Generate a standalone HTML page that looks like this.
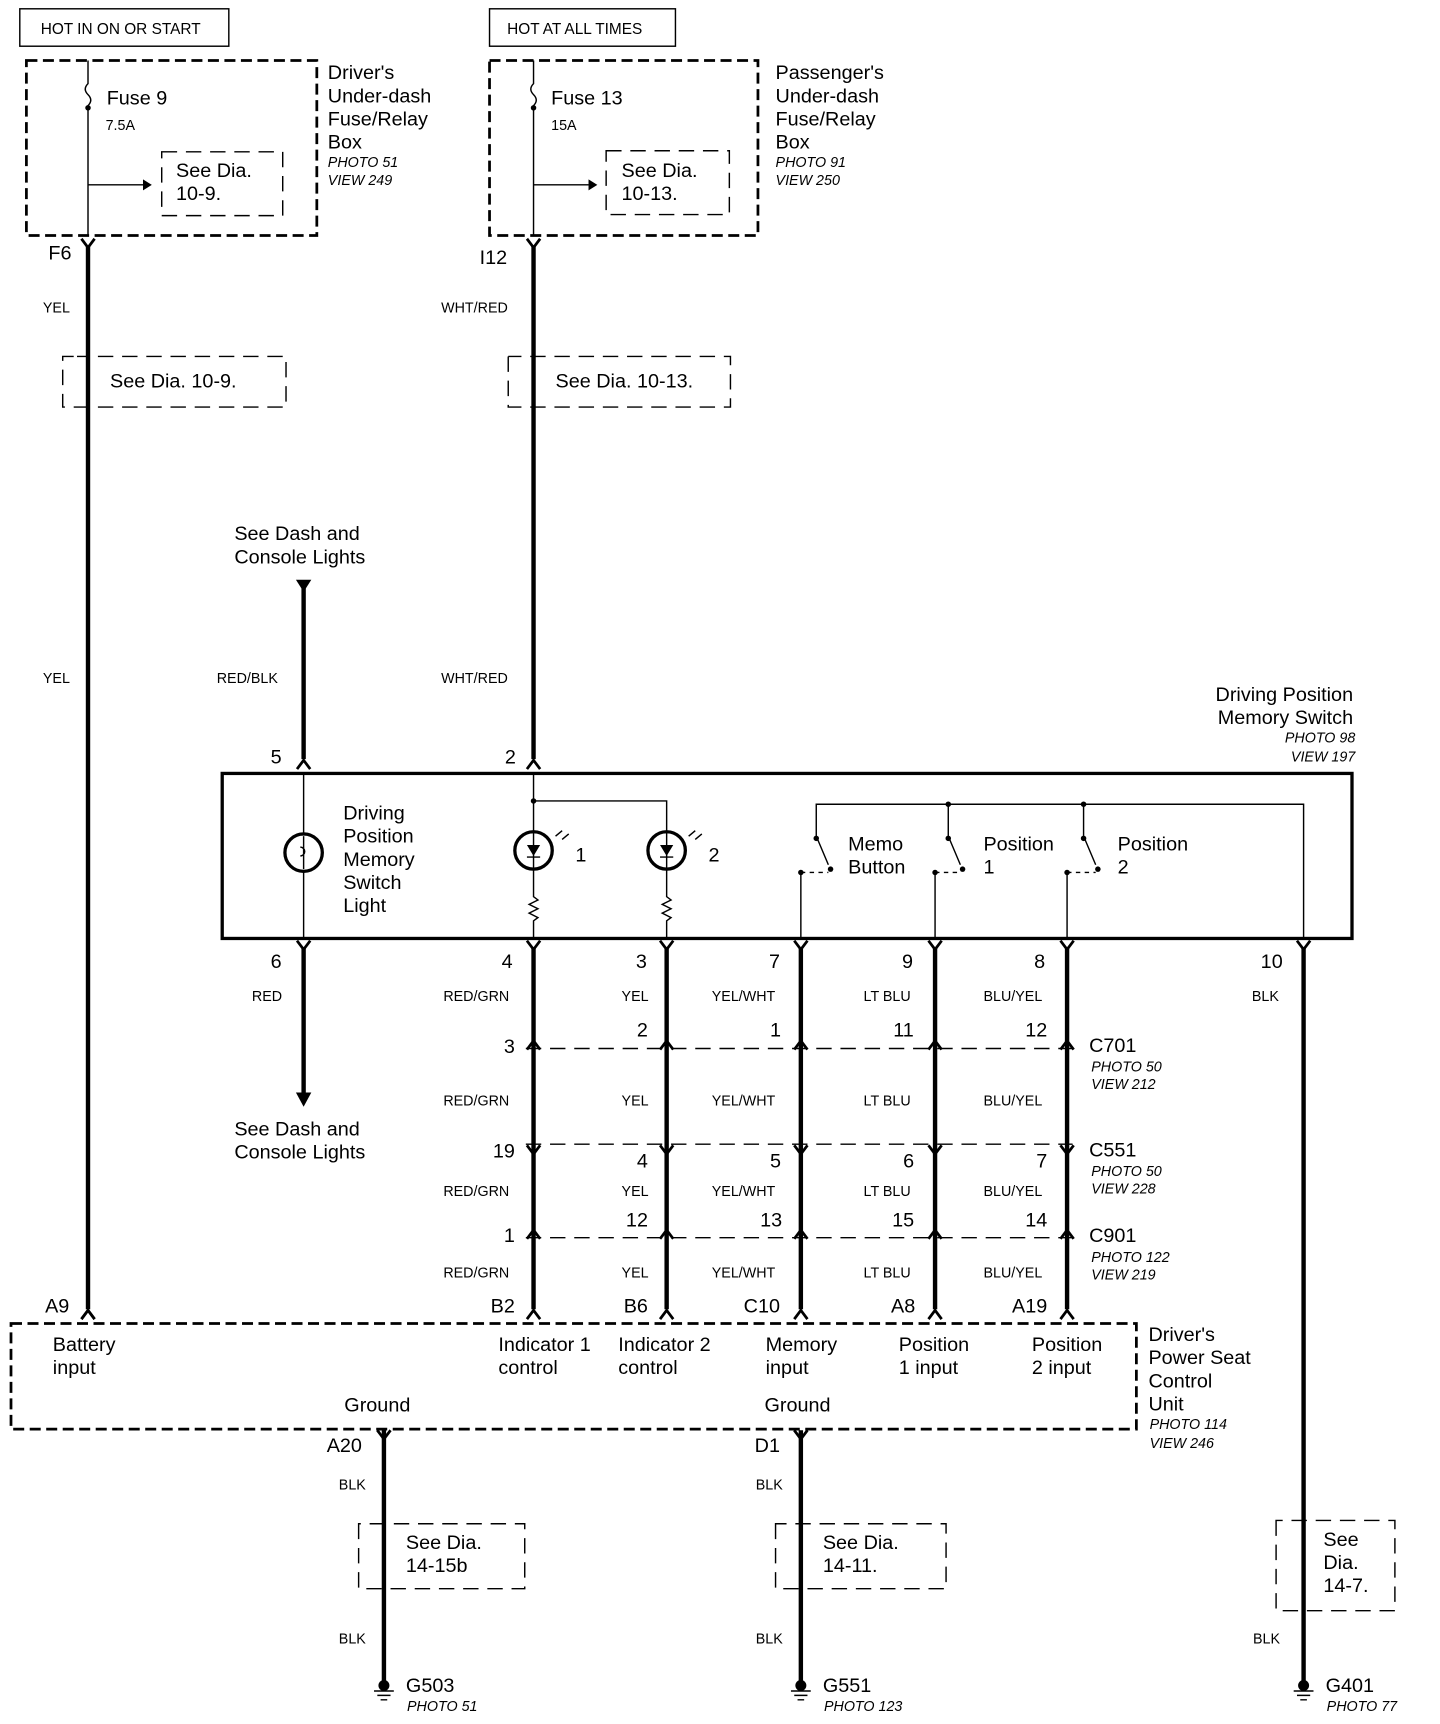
<!DOCTYPE html>
<html><head><meta charset="utf-8"><style>
html,body{margin:0;padding:0;background:#fff}
svg{display:block}
text{font-family:"Liberation Sans",sans-serif;fill:#000}
.t{font-size:18px}.s{font-size:13px}.i{font-size:13px;font-style:italic}
.w{stroke:#000;stroke-width:4;fill:none}
.n{stroke:#000;stroke-width:1.3;fill:none}
.d{stroke:#000;stroke-width:1.3;fill:none;stroke-dasharray:14 8}
.D{stroke:#000;stroke-width:2.5;fill:none;stroke-dasharray:10 5}
</style></head><body>
<svg width="1440" height="1724" viewBox="0 0 1309 1567" preserveAspectRatio="none" xmlns="http://www.w3.org/2000/svg">
<defs>
<path id="up" d="M-6,7 L0,-1 L6,7" stroke="#000" stroke-width="2.5" fill="none"/>
<path id="dn" d="M-6,-7 L0,1 L6,-7" stroke="#000" stroke-width="2.5" fill="none"/>
<g id="gnd"><circle cx="0" cy="0" r="5" fill="#000"/><path d="M-9,5 H9 M-6,9 H6 M-3,13 H3" stroke="#000" stroke-width="1.3"/></g>
</defs>
<!-- top labels -->
<rect x="18" y="8" width="190" height="34" class="n" stroke-width="2"/>
<text x="37" y="31" class="s" style="font-size:14px">HOT IN ON OR START</text>
<rect x="445" y="8" width="169" height="34" class="n" stroke-width="2"/>
<text x="461" y="31" class="s" style="font-size:14px">HOT AT ALL TIMES</text>
<!-- fuse box 1 -->
<rect x="24" y="55" width="264" height="159" class="D"/>
<path class="n" d="M80,55 V76 q-5,5 0,10 q5,5 0,10 V214 M80,168 H130"/>
<path d="M130,163 L138,168 L130,173Z"/>
<circle cx="80" cy="98" r="2.5"/>
<text x="97" y="95" class="t">Fuse 9</text><text x="96" y="118" class="s">7.5A</text>
<rect x="147" y="138" width="110" height="58" class="d" stroke-dasharray="12 10"/>
<text x="160" y="161" class="t">See  Dia.</text><text x="160" y="182" class="t">10-9.</text>
<text x="298" y="72" class="t">Driver's</text><text x="298" y="93" class="t">Under-dash</text><text x="298" y="114" class="t">Fuse/Relay</text><text x="298" y="135" class="t">Box</text>
<text x="298" y="152" class="i">PHOTO 51</text><text x="298" y="168" class="i">VIEW 249</text>
<!-- fuse box 2 -->
<rect x="445" y="55" width="244" height="159" class="D"/>
<path class="n" d="M485,55 V76 q-5,5 0,10 q5,5 0,10 V214 M485,168 H535"/>
<path d="M535,163 L543,168 L535,173Z"/>
<circle cx="485" cy="98" r="2.5"/>
<text x="501" y="95" class="t">Fuse 13</text><text x="501" y="118" class="s">15A</text>
<rect x="551" y="137" width="112" height="58" class="d" stroke-dasharray="12 10"/>
<text x="565" y="161" class="t">See  Dia.</text><text x="565" y="182" class="t">10-13.</text>
<text x="705" y="72" class="t">Passenger's</text><text x="705" y="93" class="t">Under-dash</text><text x="705" y="114" class="t">Fuse/Relay</text><text x="705" y="135" class="t">Box</text>
<text x="705" y="152" class="i">PHOTO 91</text><text x="705" y="168" class="i">VIEW 250</text>
<!-- main wires -->
<text x="44" y="236" class="t">F6</text>
<use href="#dn" x="80" y="224"/>
<path class="w" d="M80,224 V1190"/>
<use href="#up" x="80" y="1192"/>
<text x="436" y="240" class="t">I12</text>
<use href="#dn" x="485" y="224"/>
<path class="w" d="M485,224 V690"/>
<use href="#up" x="485" y="692"/>
<text x="39" y="284" class="s">YEL</text><text x="401" y="284" class="s">WHT/RED</text>
<path class="d" stroke-dasharray="12 10" d="M67,324 H57 V370 H260 V324 H70"/>
<text x="100" y="352" class="t">See  Dia.  10-9.</text>
<path class="d" stroke-dasharray="12 10" d="M462,324 V370 H664 V324 H462"/>
<text x="505" y="352" class="t">See  Dia.  10-13.</text>
<text x="39" y="621" class="s">YEL</text><text x="197" y="621" class="s">RED/BLK</text><text x="401" y="621" class="s">WHT/RED</text>
<text x="213" y="491" class="t">See Dash and</text><text x="213" y="512" class="t">Console Lights</text>
<path d="M269,527 H283 L276,538Z"/>
<path class="w" d="M276,532 V690"/><use href="#up" x="276" y="692"/>
<text x="246" y="694" class="t">5</text><text x="459" y="694" class="t">2</text>
<text x="1230" y="637" class="t" text-anchor="end">Driving Position</text>
<text x="1230" y="658" class="t" text-anchor="end">Memory Switch</text>
<text x="1232" y="675" class="i" text-anchor="end">PHOTO 98</text>
<text x="1232" y="692" class="i" text-anchor="end">VIEW 197</text>
<!-- switch box -->
<rect x="202" y="703" width="1027" height="150" fill="none" stroke="#000" stroke-width="3"/>
<path class="n" d="M276,703 V853"/>
<circle cx="276" cy="775" r="17" fill="#fff" stroke="#000" stroke-width="3"/>
<path class="n" d="M276,760 V790 M273,770 a4,4 0 1,1 0,8"/>
<text x="312" y="745" class="t">Driving</text><text x="312" y="766" class="t">Position</text><text x="312" y="787" class="t">Memory</text><text x="312" y="808" class="t">Switch</text><text x="312" y="829" class="t">Light</text>
<path class="n" d="M485,703 V815 l4,3 l-8,4 l8,4 l-8,4 l8,4 l-4,3 V853 M485,728 H606 V815 l4,3 l-8,4 l8,4 l-8,4 l8,4 l-4,3 V853"/>
<circle cx="485" cy="728" r="2.5"/>
<circle cx="485" cy="773" r="17" fill="#fff" stroke="#000" stroke-width="3"/>
<circle cx="606" cy="773" r="17" fill="#fff" stroke="#000" stroke-width="3"/>
<path d="M479,768 H491 L485,778Z M600,768 H612 L606,778Z"/>
<path class="n" d="M485,756 V790 M606,756 V790 M479,779 H491 M600,779 H612 M505,760 l6,-5 M511,763 l6,-5 M626,760 l6,-5 M632,763 l6,-5"/>
<text x="523" y="783" class="t">1</text><text x="644" y="783" class="t">2</text>
<!-- switches -->
<path class="n" d="M742,760 V731 H1185 V853 M862,731 V760 M985,731 V760 M742,760 L753,786 M862,760 L873,786 M985,760 L996,786 M728,793 V853 M850,793 V853 M970,793 V853"/>
<path class="n" stroke-dasharray="4 4" d="M728,793 H753 M850,793 H873 M970,793 H996"/>
<circle cx="742" cy="762" r="2.5"/><circle cx="862" cy="762" r="2.5"/><circle cx="985" cy="762" r="2.5"/>
<circle cx="755" cy="790" r="2.5"/><circle cx="875" cy="790" r="2.5"/><circle cx="998" cy="790" r="2.5"/>
<circle cx="728" cy="793" r="2.5"/><circle cx="850" cy="793" r="2.5"/><circle cx="970" cy="793" r="2.5"/>
<circle cx="862" cy="731" r="2.5"/><circle cx="985" cy="731" r="2.5"/>
<text x="771" y="773" class="t">Memo</text><text x="771" y="794" class="t">Button</text>
<text x="894" y="773" class="t">Position</text><text x="894" y="794" class="t">1</text>
<text x="1016" y="773" class="t">Position</text><text x="1016" y="794" class="t">2</text>
<!-- bottom wires -->
<g>
<use href="#dn" x="276" y="862"/><use href="#dn" x="485" y="862"/><use href="#dn" x="606" y="862"/><use href="#dn" x="728" y="862"/><use href="#dn" x="850" y="862"/><use href="#dn" x="970" y="862"/><use href="#dn" x="1185" y="862"/>
</g>
<path class="w" d="M276,862 V995 M485,862 V1190 M606,862 V1190 M728,862 V1190 M850,862 V1190 M970,862 V1190 M1185,862 V1530 M349,1300 V1528 M728,1300 V1528"/>
<path d="M269,993 H283 L276,1006Z"/>
<text x="246" y="880" class="t">6</text><text x="456" y="880" class="t">4</text><text x="578" y="880" class="t">3</text><text x="699" y="880" class="t">7</text><text x="820" y="880" class="t">9</text><text x="940" y="880" class="t">8</text><text x="1146" y="880" class="t">10</text>
<text x="229" y="910" class="s">RED</text><text x="403" y="910" class="s">RED/GRN</text><text x="565" y="910" class="s">YEL</text><text x="647" y="910" class="s">YEL/WHT</text><text x="785" y="910" class="s">LT BLU</text><text x="894" y="910" class="s">BLU/YEL</text><text x="1138" y="910" class="s">BLK</text>
<text x="213" y="1032" class="t">See Dash and</text><text x="213" y="1053" class="t">Console Lights</text>
<!-- connectors -->
<path class="d" d="M478,953 H975 M478,1040 H975 M478,1125 H975"/>
<g>
<use href="#up" x="485" y="947"/><use href="#up" x="606" y="947"/><use href="#up" x="728" y="947"/><use href="#up" x="850" y="947"/><use href="#up" x="970" y="947"/>
<use href="#dn" x="485" y="1048"/><use href="#dn" x="606" y="1048"/><use href="#dn" x="728" y="1048"/><use href="#dn" x="850" y="1048"/><use href="#dn" x="970" y="1048"/>
<use href="#up" x="485" y="1119"/><use href="#up" x="606" y="1119"/><use href="#up" x="728" y="1119"/><use href="#up" x="850" y="1119"/><use href="#up" x="970" y="1119"/>
<use href="#up" x="80" y="1192"/><use href="#up" x="485" y="1192"/><use href="#up" x="606" y="1192"/><use href="#up" x="728" y="1192"/><use href="#up" x="850" y="1192"/><use href="#up" x="970" y="1192"/>
</g>
<text x="458" y="957" class="t">3</text><text x="579" y="942" class="t">2</text><text x="700" y="942" class="t">1</text><text x="812" y="942" class="t">11</text><text x="932" y="942" class="t">12</text>
<text x="990" y="956" class="t">C701</text><text x="992" y="974" class="i">PHOTO 50</text><text x="992" y="990" class="i">VIEW 212</text>
<text x="403" y="1005" class="s">RED/GRN</text><text x="565" y="1005" class="s">YEL</text><text x="647" y="1005" class="s">YEL/WHT</text><text x="785" y="1005" class="s">LT BLU</text><text x="894" y="1005" class="s">BLU/YEL</text>
<text x="448" y="1052" class="t">19</text><text x="579" y="1061" class="t">4</text><text x="700" y="1061" class="t">5</text><text x="821" y="1061" class="t">6</text><text x="942" y="1061" class="t">7</text>
<text x="990" y="1051" class="t">C551</text><text x="992" y="1069" class="i">PHOTO 50</text><text x="992" y="1085" class="i">VIEW 228</text>
<text x="403" y="1087" class="s">RED/GRN</text><text x="565" y="1087" class="s">YEL</text><text x="647" y="1087" class="s">YEL/WHT</text><text x="785" y="1087" class="s">LT BLU</text><text x="894" y="1087" class="s">BLU/YEL</text>
<text x="458" y="1129" class="t">1</text><text x="569" y="1115" class="t">12</text><text x="691" y="1115" class="t">13</text><text x="811" y="1115" class="t">15</text><text x="932" y="1115" class="t">14</text>
<text x="990" y="1129" class="t">C901</text><text x="992" y="1147" class="i">PHOTO 122</text><text x="992" y="1163" class="i">VIEW 219</text>
<text x="403" y="1161" class="s">RED/GRN</text><text x="565" y="1161" class="s">YEL</text><text x="647" y="1161" class="s">YEL/WHT</text><text x="785" y="1161" class="s">LT BLU</text><text x="894" y="1161" class="s">BLU/YEL</text>
<text x="41" y="1193" class="t">A9</text><text x="446" y="1193" class="t">B2</text><text x="567" y="1193" class="t">B6</text><text x="676" y="1193" class="t">C10</text><text x="810" y="1193" class="t">A8</text><text x="920" y="1193" class="t">A19</text>
<!-- PSCU -->
<rect x="10" y="1203" width="1023" height="96" class="D"/>
<text x="48" y="1228" class="t">Battery</text><text x="48" y="1249" class="t">input</text>
<text x="453" y="1228" class="t">Indicator 1</text><text x="453" y="1249" class="t">control</text>
<text x="562" y="1228" class="t">Indicator 2</text><text x="562" y="1249" class="t">control</text>
<text x="696" y="1228" class="t">Memory</text><text x="696" y="1249" class="t">input</text>
<text x="817" y="1228" class="t">Position</text><text x="817" y="1249" class="t">1 input</text>
<text x="938" y="1228" class="t">Position</text><text x="938" y="1249" class="t">2 input</text>
<text x="313" y="1283" class="t">Ground</text><text x="695" y="1283" class="t">Ground</text>
<text x="1044" y="1219" class="t">Driver's</text><text x="1044" y="1240" class="t">Power Seat</text><text x="1044" y="1261" class="t">Control</text><text x="1044" y="1282" class="t">Unit</text>
<text x="1045" y="1299" class="i">PHOTO 114</text><text x="1045" y="1316" class="i">VIEW 246</text>
<use href="#dn" x="349" y="1307"/><use href="#dn" x="728" y="1307"/>
<text x="297" y="1320" class="t">A20</text><text x="686" y="1320" class="t">D1</text>
<text x="308" y="1354" class="s">BLK</text><text x="687" y="1354" class="s">BLK</text>
<path class="d" stroke-dasharray="12 10" d="M326,1385 V1444 H477 V1385 Z"/>
<text x="369" y="1408" class="t">See Dia.</text><text x="369" y="1429" class="t">14-15b</text>
<path class="d" stroke-dasharray="12 10" d="M705,1385 V1444 H860 V1385 Z"/>
<text x="748" y="1408" class="t">See Dia.</text><text x="748" y="1429" class="t">14-11.</text>
<path class="d" stroke-dasharray="12 10" d="M1160,1382 V1464 H1268 V1382 Z"/>
<text x="1203" y="1405" class="t">See</text><text x="1203" y="1426" class="t">Dia.</text><text x="1203" y="1447" class="t">14-7.</text>
<text x="308" y="1494" class="s">BLK</text><text x="687" y="1494" class="s">BLK</text><text x="1139" y="1494" class="s">BLK</text>
<use href="#gnd" x="349" y="1532"/><use href="#gnd" x="728" y="1532"/><use href="#gnd" x="1185" y="1532"/>
<text x="369" y="1538" class="t">G503</text><text x="370" y="1555" class="i">PHOTO 51</text>
<text x="748" y="1538" class="t">G551</text><text x="749" y="1555" class="i">PHOTO 123</text>
<text x="1205" y="1538" class="t">G401</text><text x="1206" y="1555" class="i">PHOTO 77</text>
</svg>
</body></html>
